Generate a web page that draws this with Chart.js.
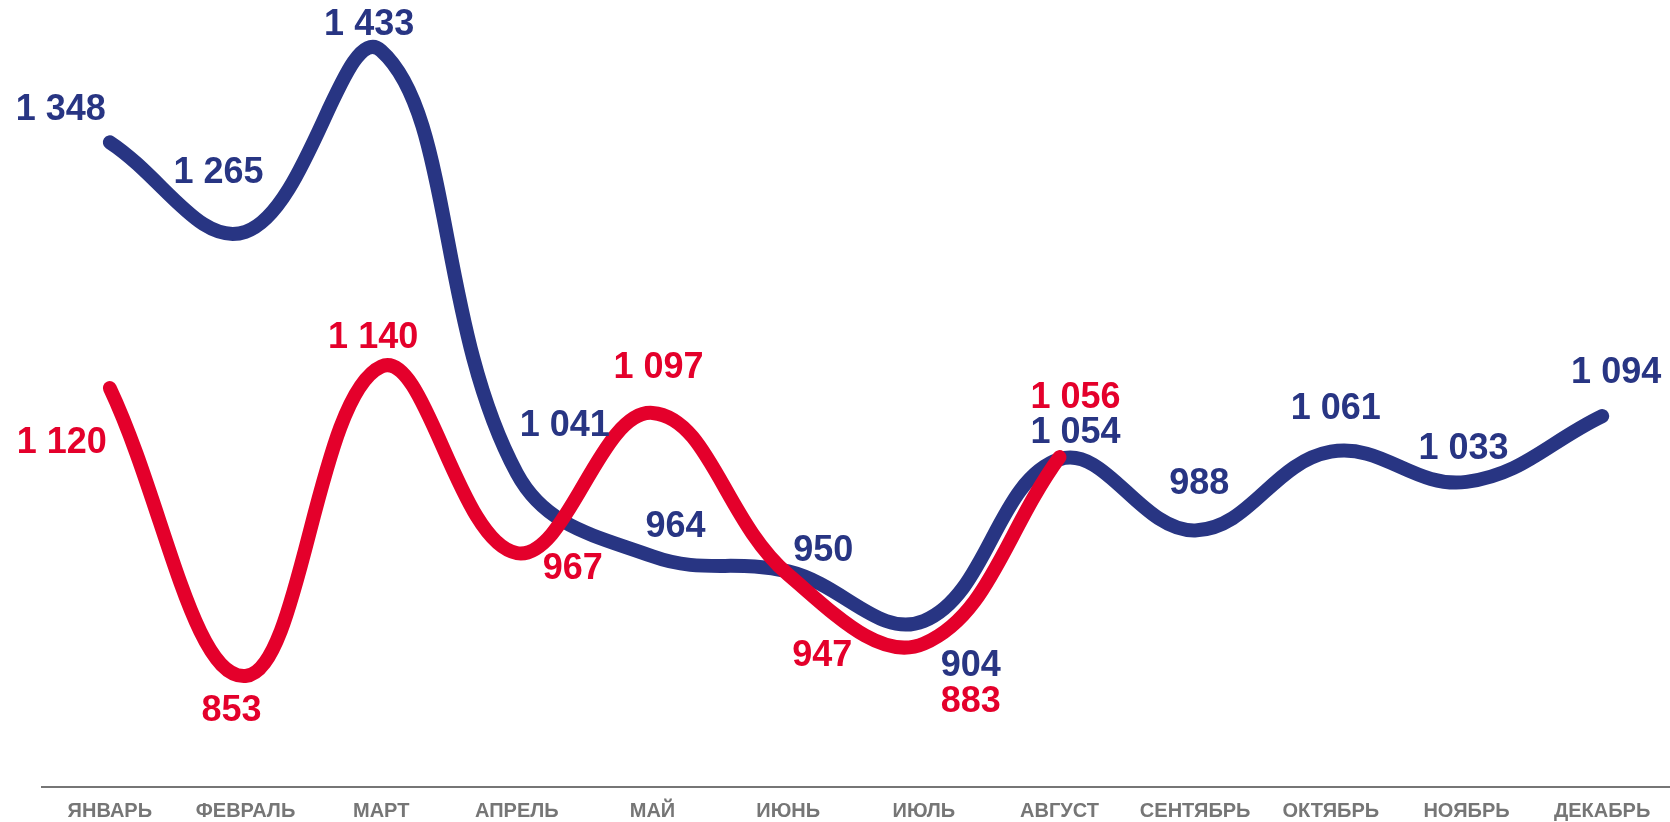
<!DOCTYPE html>
<html>
<head>
<meta charset="utf-8">
<script src="https://cdn.jsdelivr.net/npm/chart.js@4.4.0/dist/chart.umd.min.js"></script>
<style>
html,body{margin:0;padding:0;background:#fff;}
#wrap{width:1670px;height:822px;position:relative;}
</style>
</head>
<body>
<div id="wrap"><canvas id="c" width="1670" height="822"></canvas></div>
<script>
const months = ['ЯНВАРЬ','ФЕВРАЛЬ','МАРТ','АПРЕЛЬ','МАЙ','ИЮНЬ','ИЮЛЬ','АВГУСТ','СЕНТЯБРЬ','ОКТЯБРЬ','НОЯБРЬ','ДЕКАБРЬ'];
const blueValues = [1348, 1265, 1433, 1041, 964, 950, 904, 1054, 988, 1061, 1033, 1094];
const redValues = [1120, 853, 1140, 967, 1097, 947, 883, 1056];

const BLUE = '#283583';
const RED = '#E4002B';

// label offsets (px) relative to each point
const blueLabelOffsets = [[-49,-32],[-27,-59],[-12,-26],[48,-47],[23,-29],[35,-20],[47,45],[16,-26],[4,-46],[5,-43],[-3,-33],[14,-43]];
const redLabelOffsets = [[-48,55],[-14,35],[-8,-28],[56,16],[6,-45],[34,81],[47,58],[16,-59]];

function fmt(v){
  const s = String(v);
  return s.length > 3 ? s.slice(0, s.length-3) + ' ' + s.slice(s.length-3) : s;
}

const labelPlugin = {
  id: 'valueLabels',
  afterDatasetsDraw(chart){
    const ctx = chart.ctx;
    ctx.save();
    ctx.font = 'bold 36px "Liberation Sans", Arial, sans-serif';
    ctx.textAlign = 'center';
    ctx.textBaseline = 'middle';
    chart.data.datasets.forEach((ds, di) => {
      const meta = chart.getDatasetMeta(di);
      const offs = ds.labelOffsets;
      meta.data.forEach((pt, i) => {
        const v = ds.data[i];
        if (v == null) return;
        const o = offs[i] || [0,-30];
        ctx.fillStyle = ds.borderColor;
        ctx.fillText(fmt(v), pt.x + o[0], pt.y + o[1]);
      });
    });
    ctx.restore();
  }
};

new Chart(document.getElementById('c'), {
  type: 'line',
  data: {
    labels: months,
    datasets: [
      {
        label: 'red',
        data: redValues,
        borderColor: RED,
        borderWidth: 14,
        borderCapStyle: 'round',
        borderJoinStyle: 'round',
        tension: 0.4,
        pointRadius: 0,
        pointHoverRadius: 0,
        fill: false,
        order: 0,
        clip: false,
        labelOffsets: redLabelOffsets
      },
      {
        label: 'blue',
        data: blueValues,
        borderColor: BLUE,
        borderWidth: 14,
        borderCapStyle: 'round',
        borderJoinStyle: 'round',
        tension: 0.4,
        pointRadius: 0,
        pointHoverRadius: 0,
        fill: false,
        order: 1,
        clip: false,
        labelOffsets: blueLabelOffsets
      }
    ]
  },
  options: {
    responsive: false,
    animation: false,
    devicePixelRatio: 1,
    layout: { padding: { left: 42, right: 0, top: 0, bottom: 0 } },
    plugins: { legend: { display: false }, tooltip: { enabled: false } },
    scales: {
      x: {
        offset: true,
        grid: { display: false, drawTicks: false },
        border: { display: true, color: '#767676', width: 2 },
        ticks: {
          color: '#767676',
          padding: 12,
          maxRotation: 0,
          autoSkip: false,
          font: { family: '"Liberation Sans", Arial, sans-serif', size: 20, weight: 'bold' }
        },
        afterFit(scale){ scale.height = 35; }
      },
      y: {
        display: false,
        min: 750,
        max: 1480
      }
    }
  },
  plugins: [labelPlugin]
});
</script>
</body>
</html>
